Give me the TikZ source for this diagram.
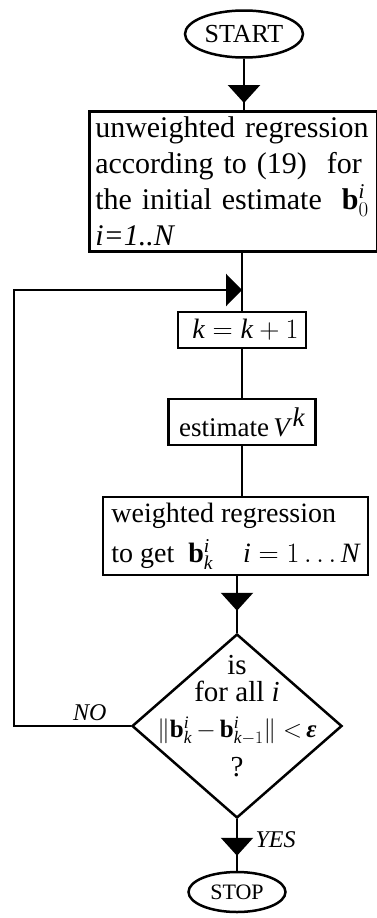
\documentclass[tikz,border=0pt]{standalone}
\usepackage{fix-cm}
\usepackage{fontspec}
\setmainfont{Liberation Serif}
\usetikzlibrary{shapes.geometric,arrows.meta,decorations.markings}
\tikzset{
	block/.style={draw, line width=2.5pt, inner sep=0pt},
	term/.style={draw, ellipse, line width=2.5pt, inner sep=0pt},
	decision/.style={draw, diamond, line width=2.5pt, inner sep=0pt},
	line/.style={line width=2.5pt},
	tipat/.style={postaction={decorate}, decoration={markings, mark=at position #1 with {\arrow{Triangle[length=18pt,width=32pt]}}}},
}
\begin{document}
\begin{tikzpicture}[x=1pt, y=-1pt]
\useasboundingbox (0,0) rectangle (377,918);
\node[term, minimum width=118, minimum height=47, font=\fontsize{26}{26}\selectfont] (start) at (244,34) {START};
\node[block, anchor=north west, minimum width=288, minimum height=140, inner xsep=6pt, text width=276, align=left, font=\fontsize{30}{36}\selectfont] (init) at (88,110)
	{unweighted regression\\ according to (19)\ \ for\\ the initial estimate\ \ $\mathbf{b}^{\mathit{i}}_0$\\ \textit{i=1..N}};
\node[block, minimum width=128, minimum height=36, font=\fontsize{28}{28}\selectfont] (incr) at (242,330) {\ $\mathit{k} = \mathit{k} + 1$};
\node[block, minimum width=147, minimum height=46, font=\fontsize{27}{27}\selectfont] (est) at (242,422) {estimate\,\textit{V}\raisebox{10pt}{\textit{k}}};
\node[block, minimum width=265, minimum height=78, align=left, font=\fontsize{28}{40}\selectfont] (wreg) at (235.5,536)
	{weighted regression\\ to get\ \ $\mathbf{b}^{\mathit{i}}_{\mathit{k}}$\hspace{30pt}$\mathit{i}=1\dots\mathit{N}$};
\node[decision, minimum width=210, minimum height=184] (test) at (237,726) {};
\node[align=center, font=\fontsize{29}{30}\selectfont] (cond) at (237,716)
	{is\\[-3pt] for all \textit{i}\\[6pt] {\fontsize{25}{25}\selectfont$\|\mathbf{b}^{\mathit{i}}_{\mathit{k}}\,{-}\,\mathbf{b}^{\mathit{i}}_{\mathit{k}{-}1}\|\;{<}\,$\textbf{\textit{ε}}}\\[9pt] ?};
\node[term, minimum width=97, minimum height=40, font=\fontsize{22}{22}\selectfont] (stop) at (237,892) {STOP};
\coordinate (lo) at (14,726);
\coordinate (hi) at (14,290);
\draw[line, tipat=-7pt] (start) -- (start |- init.north);
\draw[line] (incr.north |- init.south) -- (incr.north);
\draw[line] (incr) -- (est);
\draw[line] (est.south) -- (est.south |- wreg.north);
\draw[line, tipat=-22pt] (test.north |- wreg.south) -- (test.north);
\draw[line, tipat=-15pt] (test) -- node[right=14pt, pos=0.4, font=\fontsize{24}{24}\itshape] {YES} (stop);
% loop back for the next step
\draw[line, -{Triangle[length=16pt,width=32pt]}] (test.west) -- node[above=1pt, pos=0.35, font=\fontsize{24}{24}\itshape] {NO} (lo) -- (hi) -- (hi -| incr.north);
\end{tikzpicture}
\end{document}
